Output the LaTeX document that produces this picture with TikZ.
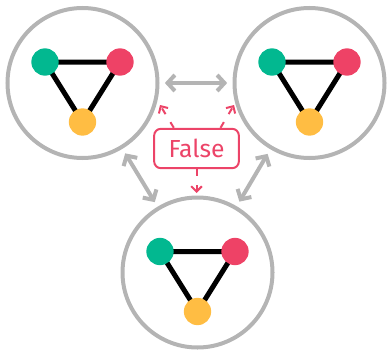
\documentclass[tikz,border=0pt]{standalone}
\usepackage{fontspec}
\newfontfamily\labelfont{Fira Sans}
\usetikzlibrary{arrows.meta,backgrounds}
\definecolor{ngreen}{HTML}{02B890}
\definecolor{nred}{HTML}{EE4266}
\definecolor{nyellow}{HTML}{FFBD43}
\definecolor{ringgray}{HTML}{B4B4B4}
\definecolor{falsepink}{HTML}{EC4468}
\begin{document}
\begin{tikzpicture}[x=0.75pt,y=-0.75pt,
  ring/.style={circle,draw=ringgray,line width=3pt,minimum size=112.5pt,inner sep=0pt},
  dot/.style={circle,minimum size=20.5pt,inner sep=0pt},
  gdot/.style={dot,fill=ngreen},
  rdot/.style={dot,fill=nred},
  ydot/.style={dot,fill=nyellow},
  link/.style={line width=3.75pt,black},
  swap/.style={ringgray,line width=3pt,
    {Straight Barb[length=5.5pt,width=12pt]}-{Straight Barb[length=5.5pt,width=12pt]},
    shorten <=4pt,shorten >=4pt},
  flag/.style={draw=falsepink,line width=1.5pt,rounded corners=5pt,
    minimum width=63.5pt,minimum height=29.5pt,inner sep=0pt,text=falsepink,
    font=\labelfont\fontsize{18.5}{20}\selectfont},
  hint/.style={falsepink,line width=1.5pt,dash pattern=on 5pt off 7pt,
    -{Straight Barb[length=4pt,width=8pt]}}
]
\useasboundingbox (0,0) rectangle (388,353);

% three rings, each holding a small triangle graph
\foreach \n/\cx/\cy in {tl/82.5/83, tr/309.5/83, bt/197.5/272.5}{
  \node[ring] (\n) at (\cx,\cy) {};
  \node[gdot] (\n-g) at (\cx-37.5,\cy-21) {};
  \node[rdot] (\n-r) at (\cx+37.5,\cy-21) {};
  \node[ydot] (\n-y) at (\cx,\cy+39) {};
}
% edges of each triangle, kept under the dots
\begin{scope}[on background layer]
\foreach \n in {tl,tr,bt}{
  \draw[link] (\n-g.center) -- (\n-r.center) -- (\n-y.center) -- cycle;
}
\end{scope}

% two-way arrows between the rings
\draw[swap] (tl) -- (tr);
\draw[swap] (tl) -- (bt);
\draw[swap] (tr) -- (bt);

% the label and its dashed pointers
\node[flag] (false) at (196.5,148.5) {False};
\coordinate (pl) at (160,105);
\coordinate (pr) at (234,105);
\coordinate (pb) at (196.5,193);
\draw[hint] ([xshift=-17pt]false.north) -- (pl);
\draw[hint] ([xshift=18pt]false.north) -- (pr);
\draw[hint] (false.south) -- (pb);
\end{tikzpicture}
\end{document}
